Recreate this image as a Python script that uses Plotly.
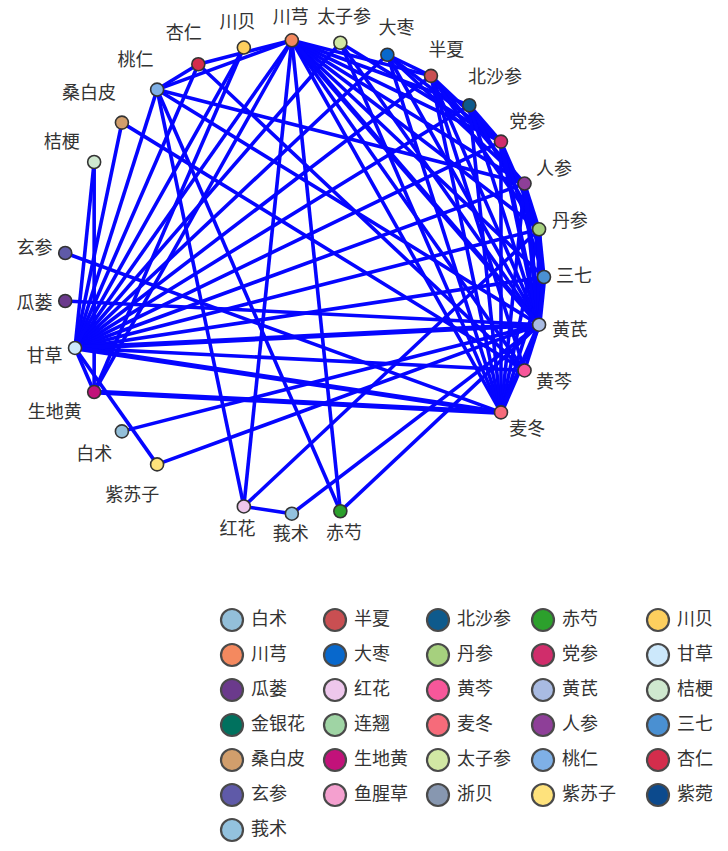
import math
import plotly.graph_objects as go

# Herbs in legend order, with their colours
herbs = ["白术", "半夏", "北沙参", "赤芍", "川贝",
         "川芎", "大枣", "丹参", "党参", "甘草",
         "瓜蒌", "红花", "黄芩", "黄芪", "桔梗",
         "金银花", "连翘", "麦冬", "人参", "三七",
         "桑白皮", "生地黄", "太子参", "桃仁", "杏仁",
         "玄参", "鱼腥草", "浙贝", "紫苏子", "紫菀",
         "莪术"]
herb_colors = ["#93bfd9", "#c94f52", "#0e5a8c", "#2ca02c", "#fdcf5e",
               "#f4895f", "#0868cc", "#a6d07e", "#d02d6b", "#cce8fb",
               "#6b3a8c", "#eec7ec", "#f7579a", "#a9bbe2", "#cfe8cf",
               "#00715e", "#9fd4a4", "#f66b7a", "#8e3f98", "#4a90d2",
               "#d19e6c", "#c2127a", "#d2e8a4", "#7fb0e6", "#d42d4c",
               "#5f5aa8", "#f4a0cf", "#8797b0", "#fee27c", "#0c4a8d",
               "#93c2de"]

# Co-occurrence links: (herb a, herb b, strength 1 = normal, 2 = strong)
edges = [
    ("桔梗", "甘草", 1), ("桔梗", "生地黄", 1), ("桑白皮", "甘草", 1), ("桑白皮", "黄芩", 1),
    ("玄参", "麦冬", 1), ("瓜蒌", "黄芪", 1), ("白术", "黄芪", 1), ("紫苏子", "甘草", 1),
    ("紫苏子", "黄芪", 1), ("生地黄", "甘草", 1), ("生地黄", "麦冬", 2), ("生地黄", "川贝", 1),
    ("红花", "川芎", 1), ("红花", "桃仁", 1), ("红花", "莪术", 1), ("红花", "丹参", 1),
    ("莪术", "黄芪", 1), ("赤芍", "川芎", 1), ("赤芍", "桃仁", 1), ("赤芍", "黄芪", 1),
    ("甘草", "桃仁", 1), ("甘草", "杏仁", 1), ("甘草", "川芎", 1), ("甘草", "太子参", 1),
    ("甘草", "大枣", 1), ("甘草", "半夏", 1), ("甘草", "北沙参", 1), ("甘草", "党参", 1),
    ("甘草", "人参", 1), ("甘草", "丹参", 1), ("甘草", "三七", 1), ("甘草", "黄芪", 2),
    ("甘草", "黄芩", 1), ("甘草", "麦冬", 2), ("甘草", "川贝", 1),
    ("桃仁", "川芎", 1), ("桃仁", "杏仁", 1), ("桃仁", "人参", 1), ("桃仁", "黄芪", 1),
    ("杏仁", "川芎", 1), ("杏仁", "黄芩", 1),
    ("川芎", "生地黄", 1), ("川芎", "麦冬", 1), ("川芎", "黄芩", 1), ("川芎", "黄芪", 2),
    ("川芎", "三七", 1), ("川芎", "丹参", 1), ("川芎", "人参", 1), ("川芎", "党参", 1),
    ("川芎", "半夏", 1), ("川芎", "北沙参", 1),
    ("太子参", "麦冬", 1), ("太子参", "黄芪", 1), ("太子参", "党参", 1),
    ("大枣", "半夏", 1), ("大枣", "党参", 1), ("大枣", "黄芪", 1), ("大枣", "麦冬", 1),
    ("大枣", "人参", 1),
    ("半夏", "麦冬", 1), ("半夏", "人参", 1), ("半夏", "党参", 1), ("半夏", "黄芪", 1),
    ("半夏", "丹参", 1), ("半夏", "黄芩", 1),
    ("北沙参", "麦冬", 1), ("北沙参", "丹参", 1), ("北沙参", "黄芪", 1), ("北沙参", "党参", 1),
    ("党参", "黄芪", 2), ("党参", "麦冬", 1), ("党参", "丹参", 1), ("党参", "三七", 1),
    ("人参", "黄芪", 2), ("人参", "麦冬", 1), ("人参", "丹参", 1), ("人参", "三七", 1),
    ("丹参", "三七", 1), ("丹参", "黄芪", 2), ("丹参", "麦冬", 1),
    ("三七", "黄芪", 2), ("三七", "麦冬", 1),
    ("黄芪", "麦冬", 2), ("黄芪", "黄芩", 1),
]

# ---- circular layout: every herb gets a slot, ordered by code point ----
CX, CY, RX, RY = 304, 277, 240, 237
ring = sorted(herbs)
step = 2 * math.pi / len(ring)
pos = {}
for k, name in enumerate(ring):
    a = k * step
    pos[name] = (CX + RX * math.cos(a), CY - RY * math.sin(a), a)

color_of = dict(zip(herbs, herb_colors))
linked = {h for e in edges for h in e[:2]}
shown = [h for h in ring if h in linked]

fig = go.Figure()

# edges, one trace per stroke width
for strength, width in ((1, 3.6), (2, 5.0)):
    xs, ys = [], []
    for a, b, s in edges:
        if s != strength:
            continue
        xs += [pos[a][0], pos[b][0], None]
        ys += [pos[a][1], pos[b][1], None]
    fig.add_trace(go.Scatter(x=xs, y=ys, mode="lines",
                             line=dict(color="rgb(5,5,255)", width=width),
                             hoverinfo="skip", showlegend=False))

# nodes
fig.add_trace(go.Scatter(
    x=[pos[h][0] for h in shown], y=[pos[h][1] for h in shown],
    mode="markers",
    marker=dict(size=13, color=[color_of[h] for h in shown],
                line=dict(color="#333333", width=1.6)),
    text=shown, hoverinfo="text", showlegend=False))

# node labels, pushed outward along the radius
FS = 18
lx, ly = [], []
for h in shown:
    x, y, a = pos[h]
    c, s = math.cos(a), math.sin(a)
    w = FS * len(h)
    gap = 12 + (5 if c < -0.3 and abs(s) > 0.3 else 0)
    off = gap + abs(c) * w / 2 + abs(s) * FS / 2
    lx.append(x + off * c)
    ly.append(y - off * s)
fig.add_trace(go.Scatter(x=lx, y=ly, mode="text", text=shown,
                         textposition="middle center",
                         textfont=dict(size=FS, color="#333333",
                                       family="Noto Sans CJK SC"),
                         hoverinfo="skip", showlegend=False))

# legend grid below the network
col_x = [232, 335, 438, 543, 658]
row_y0, row_h = 620, 35
gx = [col_x[i % 5] for i in range(len(herbs))]
gy = [row_y0 + row_h * (i // 5) for i in range(len(herbs))]
fig.add_trace(go.Scatter(x=gx, y=gy, mode="markers",
                         marker=dict(size=22, color=herb_colors,
                                     line=dict(color="#4a4a4a", width=2.2)),
                         hoverinfo="skip", showlegend=False))
fig.add_trace(go.Scatter(x=[x + 19 for x in gx], y=gy, mode="text", text=herbs,
                         textposition="middle right",
                         textfont=dict(size=FS, color="#333333",
                                       family="Noto Sans CJK SC"),
                         hoverinfo="skip", showlegend=False))

fig.update_layout(
    width=728, height=851,
    margin=dict(l=0, r=0, t=0, b=0),
    paper_bgcolor="white", plot_bgcolor="white",
    xaxis=dict(range=[0, 728], visible=False, fixedrange=True),
    yaxis=dict(range=[851, 0], visible=False, fixedrange=True),
)

fig.write_html("out.html")
